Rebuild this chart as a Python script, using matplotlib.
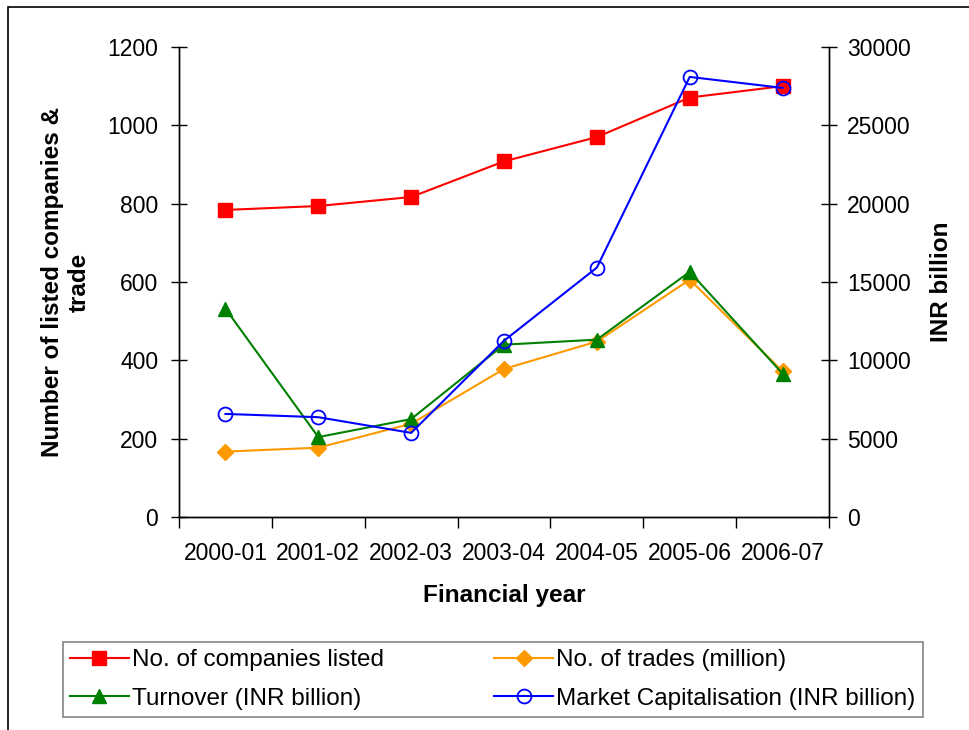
import matplotlib.pyplot as plt
from matplotlib.patches import Rectangle

plt.rcParams['font.family'] = ['Liberation Sans', 'DejaVu Sans']

# Dados
anos = ['2000-01', '2001-02', '2002-03', '2003-04', '2004-05', '2005-06', '2006-07']
empresas = [784, 794, 817, 908, 970, 1071, 1100]
negocios = [167, 177, 238, 378, 448, 606, 372]
turnover = [13300, 5100, 6250, 11000, 11320, 15650, 9150]
market_cap = [6580, 6370, 5370, 11250, 15920, 28090, 27390]

fig = plt.figure(figsize=(9.69, 7.30), dpi=100)
fig.patches.append(Rectangle((8 / 969, -0.1), 1.1, 1 - 7 / 730 + 0.1, transform=fig.transFigure,
                             fill=False, edgecolor='black', linewidth=1.2))

ax = fig.add_axes([179 / 969, 1 - 517 / 730, 650 / 969, 470 / 730])
ax2 = ax.twinx()

x = [i + 0.5 for i in range(len(anos))]

l1, = ax.plot(x, empresas, color='#FF0000', marker='s', markersize=10, linewidth=1.5,
              label='No. of companies listed')
l2, = ax.plot(x, negocios, color='#FF9900', marker='D', markersize=8, linewidth=1.5,
              label='No. of trades (million)')
l3, = ax2.plot(x, turnover, color='#008000', marker='^', markersize=10, linewidth=1.5,
               label='Turnover (INR billion)')
l4, = ax2.plot(x, market_cap, color='#0000FF', marker='o', markersize=10, linewidth=1.5,
               markerfacecolor='none', markeredgewidth=1.3,
               label='Market Capitalisation (INR billion)')

ax.set_xlim(0, 7)
ax.set_ylim(0, 1200)
ax2.set_ylim(0, 30000)
ax.set_yticks(range(0, 1201, 200))
ax2.set_yticks(range(0, 30001, 5000))

ax.set_xticks(range(0, 8))
ax.set_xticklabels([])
ax.set_xticks(x, minor=True)
ax.set_xticklabels(anos, minor=True, fontsize=16.5)
ax.tick_params(axis='x', which='major', direction='out', length=8, width=1)
ax.tick_params(axis='x', which='minor', length=0, pad=18)
ax.tick_params(axis='y', direction='inout', length=12, width=1, labelsize=16.5, pad=9)
ax2.tick_params(axis='y', direction='inout', length=12, width=1, labelsize=16.5, pad=7)

for a in (ax, ax2):
    a.spines['top'].set_visible(False)
    for s in ('left', 'right', 'bottom'):
        a.spines[s].set_linewidth(1)

ax.set_xlabel('Financial year', fontsize=17.5, fontweight='bold', labelpad=14)
ax.set_ylabel('Number of listed companies &\ntrade', fontsize=17.5, fontweight='bold', labelpad=12)
ax2.set_ylabel('INR billion', fontsize=17.5, fontweight='bold', labelpad=14)

# ordem: linha 1 = empresas, negócios; linha 2 = turnover, market cap
leg = fig.legend(handles=[l1, l3, l2, l4], loc='lower left', ncol=2, mode='expand',
                 bbox_to_anchor=(63 / 969, 1 - 717 / 730, 860 / 969, 75 / 730),
                 fontsize=17.5, frameon=True, fancybox=False, handlelength=2.4,
                 handletextpad=0.15, borderaxespad=0, labelspacing=0.68, borderpad=0.3)
leg.get_frame().set_edgecolor('#666666')
leg.get_frame().set_linewidth(1.2)

plt.savefig('out.png', dpi=100)
